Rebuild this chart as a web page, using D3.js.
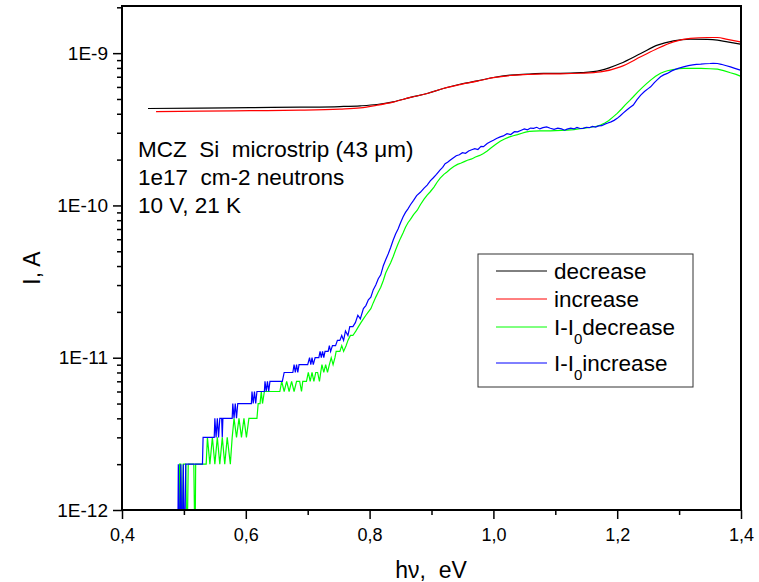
<!DOCTYPE html>
<html>
<head>
<meta charset="utf-8">
<script src="https://cdn.jsdelivr.net/npm/d3@7"></script>
<style>
  body { margin: 0; background: #fff; }
  text { font-family: "Liberation Sans", Arial, sans-serif; fill: #000; }
</style>
</head>
<body>
<div id="chart"></div>
<script>
// all currents in pA (1e-12 A), photon energy in eV
var eDec = [0.442, 0.526, 0.607, 0.688, 0.752, 0.785, 0.812, 0.838, 0.866, 0.893, 0.919, 0.946, 0.974, 1.000, 1.027, 1.055, 1.081, 1.108, 1.141, 1.173, 1.205, 1.238, 1.265, 1.291, 1.318, 1.346, 1.362, 1.378, 1.399];
var iDec = [433, 435, 439, 442, 446, 451, 460, 479, 512, 543, 586, 625, 657, 692, 717, 728, 736, 736, 744, 770, 855, 995, 1129, 1205, 1236, 1230, 1216, 1186, 1146];

var eInc = [0.455, 0.526, 0.607, 0.688, 0.752, 0.785, 0.812, 0.838, 0.866, 0.893, 0.919, 0.946, 0.974, 1.000, 1.027, 1.055, 1.081, 1.108, 1.141, 1.173, 1.205, 1.238, 1.265, 1.291, 1.318, 1.346, 1.362, 1.378, 1.399];
var iInc = [413, 416, 419, 422, 429, 437, 455, 477, 512, 543, 586, 622, 655, 690, 713, 724, 731, 732, 738, 753, 813, 946, 1074, 1186, 1250, 1267, 1267, 1230, 1186];

var eDiffDec = [0.492, 0.493, 0.495, 0.497, 0.499, 0.503, 0.505, 0.507, 0.516, 0.518, 0.519, 0.536, 0.538, 0.542, 0.546, 0.550, 0.554, 0.558, 0.562, 0.566, 0.570, 0.575, 0.578, 0.581, 0.585, 0.589, 0.593, 0.597, 0.601, 0.605, 0.618, 0.620, 0.623, 0.625, 0.627, 0.630, 0.634, 0.655, 0.658, 0.662, 0.666, 0.670, 0.674, 0.678, 0.682, 0.687, 0.690, 0.692, 0.698, 0.701, 0.704, 0.707, 0.710, 0.713, 0.716, 0.719, 0.721, 0.723, 0.726, 0.729, 0.732, 0.735, 0.738, 0.741, 0.744, 0.746,
  0.748, 0.752, 0.755, 0.758, 0.762, 0.765, 0.769, 0.773, 0.778, 0.782, 0.786, 0.790, 0.794, 0.798, 0.802, 0.806, 0.810, 0.814, 0.818, 0.822, 0.826, 0.830, 0.834, 0.838, 0.842, 0.846, 0.850, 0.854, 0.858, 0.862, 0.866, 0.871, 0.877, 0.882, 0.888, 0.893, 0.898, 0.904, 0.909, 0.914, 0.920, 0.925, 0.930, 0.936, 0.942, 0.948, 0.953, 0.958, 0.965, 0.971, 0.978, 0.984, 0.990, 0.997, 1.004, 1.011, 1.018, 1.025, 1.032, 1.039, 1.046, 1.052, 1.058, 1.065, 1.075, 1.085, 1.092, 1.100, 1.110, 1.119, 1.130, 1.140, 1.145, 1.155, 1.165, 1.173, 1.180, 1.186, 1.193, 1.200, 1.207, 1.213, 1.220, 1.226, 1.233, 1.240, 1.247, 1.254, 1.262, 1.270, 1.276, 1.281, 1.290, 1.300, 1.307, 1.320, 1.335, 1.350, 1.362, 1.372, 1.383, 1.392, 1.399];
var iDiffDec = [0.5, 2, 2, 0.5, 2, 2, 0.5, 2, 2, 0.5, 2, 2, 3, 2, 3, 2, 3, 2, 3, 2, 3, 2, 3, 4, 3, 4, 3, 4, 3, 4, 4, 5, 5, 6, 5, 6, 6, 6, 7, 6, 7, 6, 7, 6, 7, 7, 6, 7, 7, 8, 7, 8, 7, 8, 8, 7, 8, 9, 8, 9, 8, 9, 10, 9, 10, 11,
  11, 11, 12, 11, 12, 13, 14, 14, 15, 16, 17, 18, 19, 20, 21, 23, 25, 27, 29, 32, 36, 39, 42, 46, 51, 56, 61, 66, 72, 77, 81, 87, 93, 101, 110, 117, 123, 132, 142, 151, 160, 166, 173, 180, 186, 190, 194, 198, 202, 208, 213, 219, 228, 240, 252, 264, 273, 281, 287, 292, 298, 303, 306, 308, 309, 309, 309, 310, 311, 312, 315, 319, 321, 325, 330, 337, 348, 360, 380, 402, 430, 458, 488, 517, 555, 592, 628, 665, 705, 738, 755, 766, 780, 790, 794, 795, 794, 790, 785, 768, 743, 725, 706];

var eDiffInc = [0.490, 0.491, 0.493, 0.495, 0.497, 0.499, 0.501, 0.503, 0.530, 0.531, 0.549, 0.550, 0.552, 0.554, 0.556, 0.558, 0.561, 0.562, 0.563, 0.578, 0.579, 0.581, 0.583, 0.585, 0.587, 0.609, 0.610, 0.612, 0.614, 0.616, 0.618, 0.630, 0.631, 0.633, 0.635, 0.637, 0.639, 0.659, 0.662, 0.676, 0.678, 0.680, 0.682, 0.684, 0.686, 0.700, 0.703, 0.705, 0.707, 0.709, 0.712, 0.718, 0.720, 0.722, 0.724, 0.726, 0.728, 0.733, 0.735, 0.737, 0.740,
  0.742, 0.745, 0.748, 0.752, 0.755, 0.758, 0.761, 0.765, 0.768, 0.773, 0.777, 0.781, 0.785, 0.790, 0.794, 0.798, 0.802, 0.806, 0.810, 0.814, 0.818, 0.822, 0.826, 0.830, 0.834, 0.838, 0.842, 0.846, 0.850, 0.854, 0.858, 0.862, 0.866, 0.871, 0.876, 0.882, 0.888, 0.893, 0.898, 0.903, 0.908, 0.914, 0.918, 0.922, 0.926, 0.930, 0.935, 0.940, 0.945, 0.950, 0.955, 0.960, 0.965, 0.970, 0.975, 0.980, 0.984, 0.990, 0.995, 1.000, 1.005, 1.011, 1.016, 1.022, 1.028, 1.034, 1.039, 1.045, 1.050, 1.055, 1.060, 1.065, 1.070, 1.075, 1.080, 1.086, 1.092, 1.098, 1.104, 1.110, 1.115, 1.119, 1.125, 1.130, 1.135, 1.140, 1.145, 1.150, 1.155, 1.160, 1.165, 1.170, 1.175, 1.180, 1.185, 1.190, 1.195, 1.200, 1.205, 1.210, 1.215, 1.220, 1.226, 1.232, 1.238, 1.244, 1.250, 1.254, 1.260, 1.265, 1.270, 1.275, 1.281, 1.288, 1.295, 1.300, 1.307, 1.315, 1.322, 1.328, 1.335, 1.342, 1.350, 1.355, 1.362, 1.368, 1.375, 1.383, 1.390, 1.399];
var iDiffInc = [0.5, 2, 0.5, 2, 0.5, 2, 0.5, 2, 2, 3, 3, 4, 3, 4, 3, 4, 4, 3, 4, 4, 5, 4, 5, 4, 5, 5, 6, 5, 6, 5, 6, 6, 7, 6, 7, 6, 7, 7, 8, 8, 9, 8, 9, 8, 9, 9, 10, 9, 10, 9, 10, 10, 11, 10, 11, 10, 11, 11, 12, 11, 12,
  12, 12, 13, 13, 14, 13, 15, 14, 16, 16, 17, 19, 18, 21, 22, 24, 25, 28, 30, 33, 35, 40, 44, 48, 53, 59, 65, 70, 77, 84, 90, 95, 101, 108, 116, 122, 130, 136, 145, 152, 160, 171, 178, 188, 192, 198, 205, 212, 215, 222, 220, 228, 232, 236, 233, 244, 243, 255, 262, 268, 275, 282, 286, 296, 292, 305, 304, 312, 318, 314, 322, 321, 326, 318, 324, 328, 321, 316, 322, 318, 312, 317, 322, 318, 325, 320, 321, 326, 324, 330, 327, 333, 334, 342, 348, 354, 362, 373, 388, 405, 422, 438, 456, 495, 530, 560, 585, 601, 640, 670, 700, 720, 736, 765, 785, 798, 813, 828, 838, 845, 847, 852, 855, 858, 855, 845, 830, 813, 795, 773];

var seriesNames = ["decrease", "increase", "I-I0decrease", "I-I0increase"];
var seriesColors = ["#000000", "#ff0000", "#00ff00", "#0000ff"];
var xTicks = [0.4, 0.6, 0.8, 1.0, 1.2, 1.4];
var yTicks = [1e-12, 1e-11, 1e-10, 1e-9];

var W = 759, H = 582;
var mLeft = 122, mRight = 741, mTop = 6, mBottom = 510;

var svg = d3.select("#chart").append("svg")
  .attr("width", W)
  .attr("height", H);

var x = d3.scaleLinear().domain([0.4, 1.4]).range([mLeft, mRight]);
var y = d3.scaleLog().domain([1e-12, 2.04e-9]).range([mBottom, mTop]);

svg.append("defs").append("clipPath").attr("id", "plotClip")
  .append("rect")
  .attr("x", mLeft).attr("y", mTop)
  .attr("width", mRight - mLeft).attr("height", mBottom - mTop);

var series = [
  { e: eDec, i: iDec, curve: d3.curveMonotoneX },
  { e: eInc, i: iInc, curve: d3.curveMonotoneX },
  { e: eDiffDec, i: iDiffDec, curve: d3.curveLinear },
  { e: eDiffInc, i: iDiffInc, curve: d3.curveLinear }
];

var plot = svg.append("g").attr("clip-path", "url(#plotClip)");

series.forEach(function (s, k) {
  var pts = s.e.map(function (e, j) { return [e, s.i[j] * 1e-12]; });
  var line = d3.line()
    .curve(s.curve)
    .x(function (d) { return x(d[0]); })
    .y(function (d) { return y(d[1]); });
  plot.append("path")
    .attr("d", line(pts))
    .attr("fill", "none")
    .attr("stroke", seriesColors[k])
    .attr("stroke-width", 1.2);
});

// minor ticks
var yMinor = [];
[-12, -11, -10, -9].forEach(function (p) {
  for (var m = 2; m <= 9; m++) {
    var v = m * Math.pow(10, p);
    if (v <= 2.04e-9) yMinor.push(v);
  }
});
var xMinor = [0.5, 0.7, 0.9, 1.1, 1.3];

svg.append("g")
  .attr("transform", "translate(" + mLeft + ",0)")
  .call(d3.axisLeft(y).tickValues(yMinor).tickSize(5).tickFormat(""))
  .call(function (g) { g.select(".domain").remove(); });

svg.append("g")
  .attr("transform", "translate(0," + mBottom + ")")
  .call(d3.axisBottom(x).tickValues(xMinor).tickSize(5).tickFormat(""))
  .call(function (g) { g.select(".domain").remove(); });

var yAxis = svg.append("g")
  .attr("transform", "translate(" + mLeft + ",0)")
  .call(d3.axisLeft(y).tickValues(yTicks).tickSize(9).tickPadding(5)
    .tickFormat(function (d) { return "1E" + Math.round(Math.log10(d)); }));
yAxis.select(".domain").remove();
yAxis.selectAll("text").style("font-size", "19px").attr("fill", "#000");

var xAxis = svg.append("g")
  .attr("transform", "translate(0," + mBottom + ")")
  .call(d3.axisBottom(x).tickValues(xTicks).tickSize(9).tickPadding(9)
    .tickFormat(function (d) { return d3.format(".1f")(d).replace(".", ","); }));
xAxis.select(".domain").remove();
xAxis.selectAll("text").style("font-size", "18px").attr("fill", "#000");

svg.selectAll(".tick line").attr("stroke", "#000").attr("stroke-width", 1.5);

// frame
svg.append("rect")
  .attr("x", mLeft).attr("y", mTop)
  .attr("width", mRight - mLeft).attr("height", mBottom - mTop)
  .attr("fill", "none")
  .attr("stroke", "#000")
  .attr("stroke-width", 2);

// axis titles
svg.append("text")
  .attr("transform", "translate(40,268) rotate(-90)")
  .attr("text-anchor", "middle")
  .style("font-size", "23px")
  .text("I, A");

svg.append("text")
  .attr("x", 431).attr("y", 578)
  .attr("text-anchor", "middle")
  .style("font-size", "23px")
  .style("white-space", "pre")
  .text("h\u03bd,  eV");

// annotation
var notes = ["MCZ  Si  microstrip (43 \u03bcm)", "1e17  cm-2 neutrons", "10 V, 21 K"];
svg.selectAll(".note").data(notes).enter().append("text")
  .attr("class", "note")
  .attr("x", 138)
  .attr("y", function (d, i) { return 157 + i * 28; })
  .style("font-size", "22.5px")
  .style("white-space", "pre")
  .text(function (d) { return d; });

// legend
var lg = svg.append("g");
lg.append("rect")
  .attr("x", 478).attr("y", 254)
  .attr("width", 215).attr("height", 133)
  .attr("fill", "#fff")
  .attr("stroke", "#333")
  .attr("stroke-width", 1);

var rowY = [271, 299, 327, 363];
seriesNames.forEach(function (name, k) {
  lg.append("line")
    .attr("x1", 496).attr("x2", 547)
    .attr("y1", rowY[k]).attr("y2", rowY[k])
    .attr("stroke", seriesColors[k])
    .attr("stroke-width", 1);
  var t = lg.append("text")
    .attr("x", 554)
    .attr("y", rowY[k] + 8)
    .style("font-size", "22.5px");
  if (name.indexOf("I-I0") === 0) {
    t.append("tspan").text("I-I");
    t.append("tspan").attr("dy", 9).style("font-size", "15px").text("0");
    t.append("tspan").attr("dy", -9).text(name.slice(4));
  } else {
    t.text(name);
  }
});
</script>
</body>
</html>
